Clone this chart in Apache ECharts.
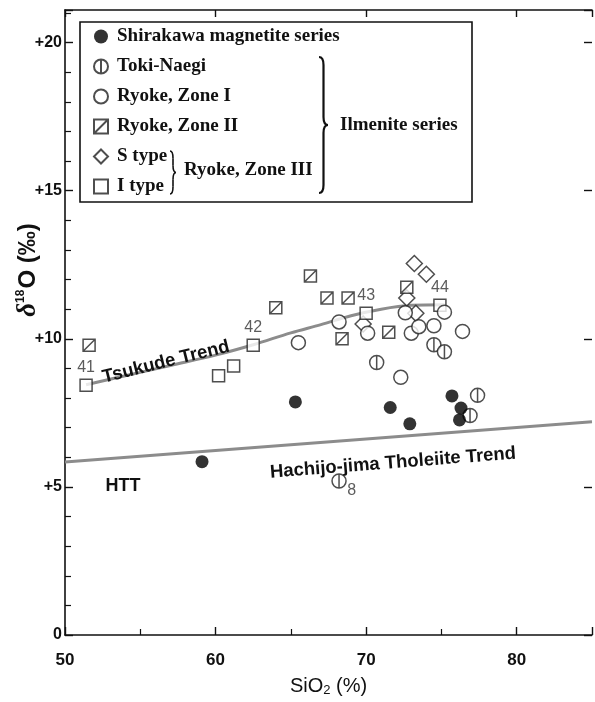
<!DOCTYPE html>
<html><head><meta charset="utf-8">
<script src="https://cdn.jsdelivr.net/npm/echarts@6/dist/echarts.min.js"></script>
<style>html,body{margin:0;padding:0;background:#fff}#c{width:595px;height:702px}</style>
</head><body><div id="c"></div>
<script>
// ---- data ----
var shirakawaX = [59.1, 65.3, 71.6, 72.9, 75.7, 76.3, 76.2];
var shirakawaY = [5.85, 7.87, 7.68, 7.13, 8.07, 7.66, 7.26];
var tokiX = [68.2, 70.7, 74.5, 75.2, 77.4, 76.9];
var tokiY = [5.2, 9.2, 9.8, 9.56, 8.09, 7.41];
var tokiLabels = ['8', '', '', '', '', ''];
var zone1X = [65.5, 68.2, 70.1, 72.6, 73.0, 73.5, 74.5, 75.2, 76.4, 72.3];
var zone1Y = [9.87, 10.57, 10.19, 10.88, 10.19, 10.41, 10.44, 10.9, 10.25, 8.7];
var zone2X = [51.6, 64.0, 66.3, 67.4, 68.8, 68.4, 71.5, 72.7];
var zone2Y = [9.78, 11.05, 12.12, 11.38, 11.38, 10.0, 10.22, 11.74];
var sTypeX = [73.2, 74.0, 72.7, 73.3, 69.8];
var sTypeY = [12.54, 12.18, 11.38, 10.86, 10.5];
var iTypeX = [51.4, 60.2, 61.2, 62.5, 70.0, 74.9];
var iTypeY = [8.43, 8.75, 9.08, 9.78, 10.86, 11.13];
var iTypeLabels = ['41', '', '', '42', '43', '44'];
var tsukudeX = [51.4, 54, 57, 60, 62.5, 65, 67, 69, 71, 73, 75.2];
var tsukudeY = [8.45, 8.75, 9.1, 9.45, 9.8, 10.2, 10.48, 10.78, 11.0, 11.13, 11.15];
var httX = [50, 85];
var httY = [5.84, 7.2];
var yTicks = [0, 5, 10, 15, 20];
var xTicks = [50, 60, 70, 80];

function pairs(xs, ys) { return xs.map(function (x, i) { return [x, ys[i]]; }); }
function labeled(xs, ys, labs, pos) {
  return xs.map(function (x, i) {
    var d = { value: [x, ys[i]] };
    if (labs[i]) d.label = { show: true, formatter: labs[i], position: pos[i] || 'top', distance: 3,
      fontSize: 16, color: '#333', fontFamily: 'Liberation Sans' };
    return d;
  });
}

var ink = '#222';
var openStyle = { color: '#fff', borderColor: ink, borderWidth: 1.5 };
var symHatch = 'path://M0,0H10V10H0Z M0,10L10,0';
var symToki = 'path://M10,0A10,10,0,1,1,10,20A10,10,0,1,1,10,0Z M10,0V20';
var serif = 'Liberation Serif';
var sans = 'Liberation Sans';

function brace(x0, y0, y1, w, lw) {
  var ym = (y0 + y1) / 2, xm = x0 + w / 2, r = Math.min(8, (y1 - y0) / 6);
  var st = { fill: null, stroke: '#111', lineWidth: lw };
  return [
    { type: 'bezierCurve', z: 30, shape: { x1: x0, y1: y0, cpx1: xm, cpy1: y0, x2: xm, y2: y0 + r }, style: st },
    { type: 'line', z: 30, shape: { x1: xm, y1: y0 + r, x2: xm, y2: ym - r }, style: st },
    { type: 'bezierCurve', z: 30, shape: { x1: xm, y1: ym - r, cpx1: xm, cpy1: ym, x2: x0 + w, y2: ym }, style: st },
    { type: 'bezierCurve', z: 30, shape: { x1: x0 + w, y1: ym, cpx1: xm, cpy1: ym, x2: xm, y2: ym + r }, style: st },
    { type: 'line', z: 30, shape: { x1: xm, y1: ym + r, x2: xm, y2: y1 - r }, style: st },
    { type: 'bezierCurve', z: 30, shape: { x1: xm, y1: y1 - r, cpx1: xm, cpy1: y1, x2: x0, y2: y1 }, style: st }
  ];
}

var chart = echarts.init(document.getElementById('c'), null, { renderer: 'canvas' });
var axisLine = { show: true, onZero: false, lineStyle: { color: '#111', width: 1.6 } };
var graphics = [
  { type: 'rect', z: 10, shape: { x: 80, y: 22, width: 392, height: 180 },
    style: { fill: '#fff', stroke: '#111', lineWidth: 1.6 } },
  { type: 'text', z: 30, left: 340, top: 116,
    style: { text: 'Ilmenite series', font: 'bold 19px "Liberation Serif"', fill: '#111' } },
  { type: 'text', z: 30, left: 184, top: 161,
    style: { text: 'Ryoke, Zone III', font: 'bold 19px "Liberation Serif"', fill: '#111' } },
  { type: 'text', z: 30, x: 166, y: 362, rotation: 0.245,
    style: { text: 'Tsukude Trend', font: 'bold 18.5px "Liberation Sans"', fill: '#111', align: 'center', verticalAlign: 'middle' } },
  { type: 'text', z: 30, x: 393, y: 463, rotation: 0.0775,
    style: { text: 'Hachijo-jima Tholeiite Trend', font: 'bold 18.5px "Liberation Sans"', fill: '#111', align: 'center', verticalAlign: 'middle' } },
  { type: 'text', z: 30, x: 123, y: 486,
    style: { text: 'HTT', font: 'bold 18px "Liberation Sans"', fill: '#111', align: 'center', verticalAlign: 'middle' } },
  { type: 'text', z: 30, x: 28, y: 270, rotation: Math.PI / 2,
    style: { text: '{d|δ}{s|18}{o|O (‰)}', align: 'center', verticalAlign: 'middle',
      rich: { d: { font: 'italic bold 27px "Liberation Serif"', fill: '#111' },
        s: { font: 'bold 12px "Liberation Sans"', fill: '#111', verticalAlign: 'top', padding: [0, 1, 10, 0] },
        o: { font: 'bold 24px "Liberation Sans"', fill: '#111' } } } }
].concat(brace(319, 57, 193, 9, 2.2)).concat(brace(170, 151, 194, 6, 1.6));

chart.setOption({
  animation: false,
  grid: { left: 65, right: 0, top: 10, bottom: 55, containLabel: false },
  xAxis: [{
    type: 'value', min: 50, max: 85, interval: 10, position: 'bottom',
    axisLine: axisLine,
    axisTick: { show: true, inside: true, length: 8, lineStyle: { color: '#111', width: 1.4 } },
    minorTick: { show: true, splitNumber: 2, length: 6, lineStyle: { color: '#111', width: 1.2 } },
    splitLine: { show: false },
    axisLabel: { margin: 17, fontSize: 17, fontWeight: 'bold', color: '#111', fontFamily: sans,
      formatter: function (v) { return xTicks.indexOf(v) >= 0 ? String(v) : ''; } },
    name: '{a|SiO}{b|2}{a| (%)}', nameLocation: 'middle', nameGap: 40,
    nameTextStyle: { rich: { a: { fontSize: 20, fontFamily: sans, color: '#111' },
      b: { fontSize: 13, fontFamily: sans, color: '#111', verticalAlign: 'bottom', padding: [9, 0, 0, 0] } } }
  }, {
    type: 'value', min: 50, max: 85, interval: 10, position: 'top',
    axisLine: axisLine,
    axisTick: { show: true, inside: true, length: 7, lineStyle: { color: '#111', width: 1.4 } },
    axisLabel: { show: false }, splitLine: { show: false }
  }],
  yAxis: [{
    type: 'value', min: 0, max: 21.1, interval: 5, position: 'left',
    axisLine: axisLine,
    axisTick: { show: true, inside: true, length: 8, lineStyle: { color: '#111', width: 1.4 } },
    minorTick: { show: true, splitNumber: 5, length: 6, lineStyle: { color: '#111', width: 1.2 } },
    splitLine: { show: false },
    axisLabel: { margin: 3, fontSize: 16, fontWeight: 'bold', color: '#111', fontFamily: sans,
      formatter: function (v) { return yTicks.indexOf(v) < 0 ? '' : (v === 0 ? '0' : '+' + v); } }
  }, {
    type: 'value', min: 0, max: 21.1, interval: 5, position: 'right',
    axisLine: { show: false, onZero: false },
    axisTick: { show: true, inside: true, length: 8, lineStyle: { color: '#111', width: 1.4 } },
    axisLabel: { show: false }, splitLine: { show: false }
  }],
  legend: {
    orient: 'vertical', left: 93, top: 27, padding: 0, itemWidth: 14, itemHeight: 14, itemGap: 11,
    selectedMode: false, z: 20,
    textStyle: { fontFamily: serif, fontWeight: 'bold', fontSize: 19, color: '#111', padding: [0, 0, 0, 4] },
    data: ['Shirakawa magnetite series', 'Toki-Naegi', 'Ryoke, Zone I', 'Ryoke, Zone II', 'S type', 'I type']
  },
  graphic: graphics,
  series: [
    { type: 'line', name: 'Tsukude', data: pairs(tsukudeX, tsukudeY), smooth: 0.35, symbol: 'none',
      lineStyle: { color: '#8c8c8c', width: 3 }, z: 1, silent: true },
    { type: 'line', name: 'HTT', data: pairs(httX, httY), symbol: 'none',
      lineStyle: { color: '#8c8c8c', width: 3 }, z: 1, silent: true },
    { type: 'scatter', name: 'S type', data: pairs(sTypeX, sTypeY), symbol: 'diamond', symbolSize: 16,
      itemStyle: openStyle, z: 3 },
    { type: 'scatter', name: 'Ryoke, Zone II', data: pairs(zone2X, zone2Y), symbol: symHatch, symbolSize: 12,
      itemStyle: openStyle, z: 3 },
    { type: 'scatter', name: 'I type', data: labeled(iTypeX, iTypeY, iTypeLabels, ['top', '', '', 'top', 'top', 'top']),
      symbol: 'rect', symbolSize: 12, itemStyle: openStyle, z: 3 },
    { type: 'scatter', name: 'Ryoke, Zone I', data: pairs(zone1X, zone1Y), symbol: 'circle', symbolSize: 14,
      itemStyle: openStyle, z: 4 },
    { type: 'scatter', name: 'Toki-Naegi', data: labeled(tokiX, tokiY, tokiLabels, [[16, 9]]),
      symbol: symToki, symbolSize: 14, itemStyle: openStyle, z: 4 },
    { type: 'scatter', name: 'Shirakawa magnetite series', data: pairs(shirakawaX, shirakawaY),
      symbol: 'circle', symbolSize: 13, itemStyle: { color: '#000' }, z: 5 }
  ]
});
</script></body></html>
